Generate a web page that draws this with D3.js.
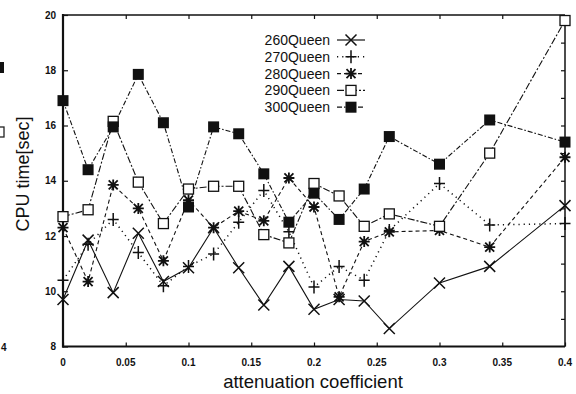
<!DOCTYPE html>
<html>
<head>
<meta charset="utf-8">
<script src="https://cdn.jsdelivr.net/npm/d3@7"></script>
<style>
  body { margin: 0; background: #fff; }
  svg { display: block; }
  text { font-family: "Liberation Sans", Arial, sans-serif; fill: #111; }
</style>
</head>
<body>
<div id="chart"></div>
<script>
// attenuation coefficient values (x)
var coef = [0, 0.02, 0.04, 0.06, 0.08, 0.1, 0.12, 0.14, 0.16, 0.18, 0.2, 0.22, 0.24, 0.26, 0.3, 0.34, 0.4];

// CPU time per series
var q260 = [9.7, 11.85, 9.95, 12.1, 10.35, 10.85, 12.3, 10.85, 9.5, 10.9, 9.35, 9.7, 9.65, 8.65, 10.3, 10.9, 13.1];
var q270 = [10.4, 11.7, 12.6, 11.4, 10.2, 10.9, 11.35, 12.5, 13.65, 12.15, 10.15, 10.9, 10.4, 12.2, 13.9, 12.4, 12.45];
var q280 = [12.3, 10.35, 13.85, 13.0, 11.1, 13.3, 12.3, 12.9, 12.55, 14.1, 13.05, 9.8, 11.8, 12.15, 12.2, 11.6, 14.85];
var q290 = [12.7, 12.95, 16.15, 13.95, 12.45, 13.7, 13.8, 13.8, 12.05, 11.75, 13.9, 13.45, 12.35, 12.8, 12.35, 15.0, 19.8];
var q300 = [16.9, 14.4, 15.95, 17.85, 16.1, 13.05, 15.95, 15.7, 14.25, 12.5, 13.55, 12.6, 13.7, 15.6, 14.6, 16.2, 15.4];

var seriesNames = ["260Queen", "270Queen", "280Queen", "290Queen", "300Queen"];
var seriesVals = [q260, q270, q280, q290, q300];
var dashes = [null, "1.2,4", "4,3", "7,2,2,2", "5,2,1.5,2"];
var markers = ["x", "plus", "star", "box", "fbox"];

var xTicks = [0, 0.05, 0.1, 0.15, 0.2, 0.25, 0.3, 0.35, 0.4];
var xTickLabels = ["0", "0.05", "0.1", "0.15", "0.2", "0.25", "0.3", "0.35", "0.4"];
var yTicks = [8, 10, 12, 14, 16, 18, 20];

var W = 576, H = 394;
var svg = d3.select("#chart").append("svg").attr("width", W).attr("height", H);

var x = d3.scaleLinear().domain([0, 0.4]).range([63, 565]);
var y = d3.scaleLinear().domain([8, 20]).range([346.5, 15]);

// scraps of the neighbouring figure on the left edge
svg.append("rect").attr("x", -6).attr("y", 62).attr("width", 10).attr("height", 11).attr("fill", "#111");
svg.append("rect").attr("x", -5).attr("y", 127).attr("width", 9).attr("height", 10).attr("fill", "none").attr("stroke", "#222").attr("stroke-width", 1.3);
svg.append("text").attr("x", 1).attr("y", 351).attr("font-size", 10).attr("font-weight", "bold").text("4");

// frame
var g = svg.append("g");
g.append("line").attr("x1", x(0)).attr("x2", x(0.4)).attr("y1", y(20)).attr("y2", y(20)).attr("stroke", "#111").attr("stroke-width", 1.5);
g.append("line").attr("x1", x(0.4)).attr("x2", x(0.4)).attr("y1", y(20)).attr("y2", y(8)).attr("stroke", "#111").attr("stroke-width", 1.5);

// axes with inward ticks
var xb = g.append("g").attr("transform", "translate(0," + y(8) + ")")
  .call(d3.axisTop(x).tickValues(xTicks).tickSize(4).tickFormat(""));
var xt = g.append("g").attr("transform", "translate(0," + y(20) + ")")
  .call(d3.axisBottom(x).tickValues(xTicks.slice(1, -1)).tickSize(4).tickFormat(""));
var yl = g.append("g").attr("transform", "translate(" + x(0) + ",0)")
  .call(d3.axisRight(y).tickValues(yTicks).tickSize(5).tickFormat(""));
var yr = g.append("g").attr("transform", "translate(" + x(0.4) + ",0)")
  .call(d3.axisLeft(y).tickValues(d3.range(9, 20, 1)).tickSize(4).tickFormat(""));
[xb, xt, yl, yr].forEach(function(a) {
  a.select(".domain").remove();
  a.selectAll("line").attr("stroke", "#111").attr("stroke-width", 1.2);
});
g.append("line").attr("x1", x(0)).attr("x2", x(0)).attr("y1", y(20) - 1).attr("y2", y(8) + 1).attr("stroke", "#111").attr("stroke-width", 2.2);
g.append("line").attr("x1", x(0) - 1).attr("x2", x(0.4)).attr("y1", y(8)).attr("y2", y(8)).attr("stroke", "#111").attr("stroke-width", 2.2);

// tick labels
g.selectAll(".ylab").data(yTicks).enter().append("text")
  .attr("x", 56).attr("y", function(d) { return y(d) + 3.5; })
  .attr("text-anchor", "end").attr("font-size", 10).attr("font-weight", "bold")
  .text(function(d) { return d; });
g.selectAll(".xlab").data(xTicks).enter().append("text")
  .attr("x", function(d) { return x(d); }).attr("y", 366)
  .attr("text-anchor", "middle").attr("font-size", 10).attr("font-weight", "bold")
  .text(function(d, i) { return xTickLabels[i]; });

// axis titles
svg.append("text").attr("transform", "translate(29,174) rotate(-90)")
  .attr("text-anchor", "middle").attr("font-size", 18).text("CPU time[sec]");
svg.append("text").attr("x", 313).attr("y", 388)
  .attr("text-anchor", "middle").attr("font-size", 18.5).text("attenuation coefficient");

function drawMarker(sel, type, cx, cy) {
  var s = 5.5;
  if (type == "x") {
    sel.append("path").attr("d", "M" + (cx - s) + "," + (cy - s) + "L" + (cx + s) + "," + (cy + s) + "M" + (cx - s) + "," + (cy + s) + "L" + (cx + s) + "," + (cy - s))
      .attr("stroke", "#111").attr("stroke-width", 1.5).attr("fill", "none");
  } else if (type == "plus") {
    sel.append("path").attr("d", "M" + (cx - s) + "," + cy + "L" + (cx + s) + "," + cy + "M" + cx + "," + (cy - s - 1) + "L" + cx + "," + (cy + s + 1))
      .attr("stroke", "#111").attr("stroke-width", 1.5).attr("fill", "none");
  } else if (type == "star") {
    var t = 4.5;
    sel.append("path").attr("d", "M" + (cx - t) + "," + (cy - t) + "L" + (cx + t) + "," + (cy + t) + "M" + (cx - t) + "," + (cy + t) + "L" + (cx + t) + "," + (cy - t) +
      "M" + (cx - s) + "," + cy + "L" + (cx + s) + "," + cy + "M" + cx + "," + (cy - s) + "L" + cx + "," + (cy + s))
      .attr("stroke", "#111").attr("stroke-width", 1.8).attr("fill", "none");
  } else if (type == "box") {
    sel.append("rect").attr("x", cx - 5).attr("y", cy - 5).attr("width", 10).attr("height", 10)
      .attr("fill", "#fff").attr("stroke", "#111").attr("stroke-width", 1.3);
  } else {
    sel.append("rect").attr("x", cx - 5.5).attr("y", cy - 5.5).attr("width", 11).attr("height", 11)
      .attr("fill", "#111");
  }
}

var line = d3.line().x(function(d) { return x(d[0]); }).y(function(d) { return y(d[1]); });

seriesVals.forEach(function(vals, k) {
  var pts = coef.map(function(c, i) { return [c, vals[i]]; });
  var p = svg.append("path").datum(pts).attr("d", line)
    .attr("fill", "none").attr("stroke", "#111").attr("stroke-width", k == 1 ? 1.5 : 1.1);
  if (dashes[k]) p.attr("stroke-dasharray", dashes[k]);
});
seriesVals.forEach(function(vals, k) {
  var mg = svg.append("g");
  coef.forEach(function(c, i) { drawMarker(mg, markers[k], x(c), y(vals[i])); });
});

// legend
var leg = svg.append("g");
seriesNames.forEach(function(name, k) {
  var ly = 40 + k * 16.8;
  leg.append("rect").attr("x", 260).attr("y", ly - 8).attr("width", 110).attr("height", 16).attr("fill", "#fff");
  leg.append("text").attr("x", 330).attr("y", ly + 5).attr("text-anchor", "end").attr("font-size", 14).text(name);
  var ln = leg.append("line").attr("x1", 337).attr("x2", 365).attr("y1", ly).attr("y2", ly)
    .attr("stroke", "#111").attr("stroke-width", k == 1 ? 1.5 : 1.2);
  if (dashes[k]) ln.attr("stroke-dasharray", dashes[k]);
  drawMarker(leg, markers[k], 351, ly);
});
</script>
</body>
</html>
